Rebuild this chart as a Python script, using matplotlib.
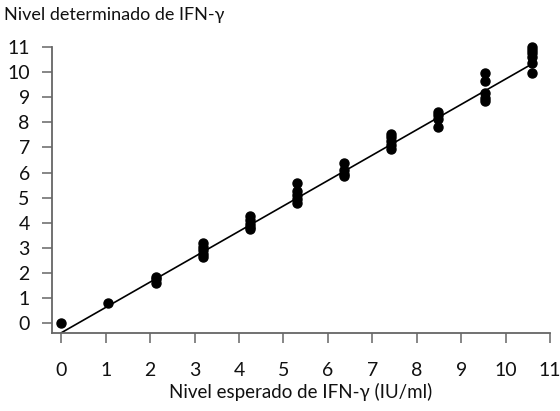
import matplotlib
matplotlib.use("Agg")
import matplotlib.pyplot as plt

# Data
x_levels = [0.0, 1.06, 2.12, 3.18, 4.24, 5.30, 6.36, 7.42, 8.48, 9.54, 10.60]
y_values = [
    [0.0],
    [0.8],
    [1.85, 1.75, 1.62],
    [3.2, 3.05, 2.9, 2.75, 2.62],
    [4.25, 4.1, 3.95, 3.85, 3.75],
    [5.6, 5.25, 5.1, 4.95, 4.8],
    [6.4, 6.1, 5.95, 5.88],
    [7.55, 7.4, 7.25, 7.1, 6.92],
    [8.4, 8.3, 8.15, 7.8],
    [9.96, 9.65, 9.15, 8.98, 8.85],
    [11.0, 10.88, 10.75, 10.6, 10.36, 9.96],
]
fit_x = [0.0, 10.6]
fit_y = [-0.38, 10.33]
ticks = list(range(0, 12))

plt.rcParams['font.family'] = ['Lato', 'DejaVu Sans']

fig = plt.figure(figsize=(5.6, 4.11), dpi=100)
ax = fig.add_axes([52/560, 1-333/411, (550-52)/560, (333-47)/411])

xs, ys = [], []
for xv, yl in zip(x_levels, y_values):
    for yv in yl:
        xs.append(xv)
        ys.append(yv)

ax.plot(fit_x, fit_y, color='black', lw=1.2, zorder=2)
ax.plot(xs, ys, 'o', color='black', ms=6.5, zorder=3, clip_on=False)

ax.set_xlim(-0.21, 11)
ax.set_ylim(-0.39, 11)
ax.set_xticks(ticks)
ax.set_yticks(ticks)
ax.set_xticklabels([str(t) for t in ticks])
ax.set_yticklabels([str(t) for t in ticks])

for s in ['top', 'right']:
    ax.spines[s].set_visible(False)
for s in ['left', 'bottom']:
    ax.spines[s].set_color('#666666')
    ax.spines[s].set_linewidth(1.3)

ax.tick_params(axis='both', direction='out', length=7, width=1.1,
               color='#666666', labelsize=14, labelcolor='#111111')
ax.tick_params(axis='y', pad=9)
ax.tick_params(axis='x', pad=14)

ax.set_xlabel('Nivel esperado de IFN-γ (IU/ml)', fontsize=13.5, color='#111111', labelpad=3)
fig.text(4/560, 1-15/411, 'Nivel determinado de IFN-γ', fontsize=13,
         color='#111111', ha='left', va='center')

fig.savefig('out.png', dpi=100)
